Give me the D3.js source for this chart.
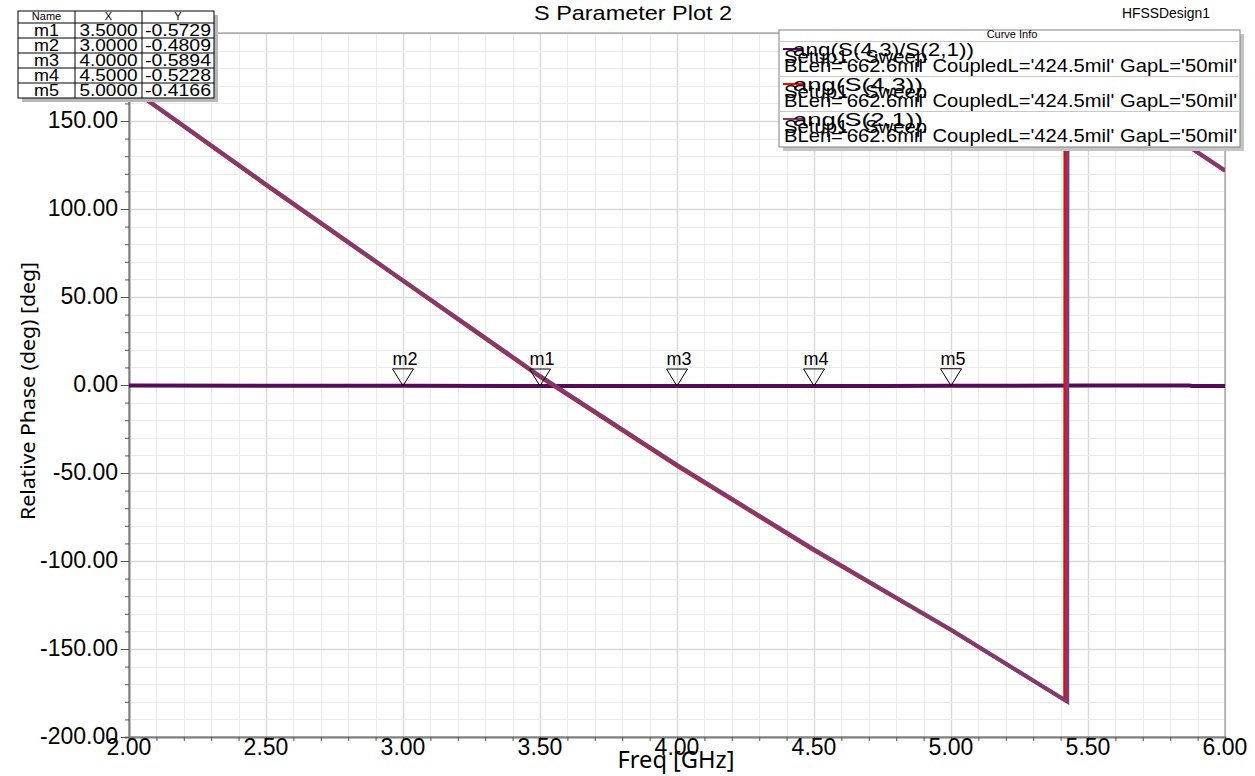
<!DOCTYPE html>
<html>
<head>
<meta charset="utf-8">
<script src="https://cdn.jsdelivr.net/npm/d3@7"></script>
<style>
  body { margin: 0; background: #fff; }
  text { font-family: "Liberation Sans", Arial, sans-serif; fill: #000; }
</style>
</head>
<body>
<div id="chart"></div>
<script>
// ---------------------------
// Data
// ---------------------------
const freqS43 = [2.0, 2.5, 3.0, 3.5, 4.0, 4.5, 5.0, 5.416, 5.417, 5.86, 6.0];
const angS43  = [169, 113.5, 59, 4.5, -46, -94, -139.4, -179.2, 180, 136, 121.6];

const freqS21 = [2.0, 2.5, 3.0, 3.5, 4.0, 4.5, 5.0, 5.424, 5.425, 5.86, 6.0];
const angS21  = [169.4, 114, 59.5, 5.1, -45.4, -93.5, -139, -179.8, 179.6, 136.4, 122];

const freqRatio = [2.0, 2.5, 3.0, 3.5, 4.0, 4.5, 4.75, 5.0, 5.5, 5.87, 5.88, 6.0];
const angRatio  = [-0.3, -0.4, -0.4809, -0.5729, -0.5894, -0.5228, -0.5, -0.4166, -0.35, -0.3, -0.6, -0.6];

const markerNames = ["m1", "m2", "m3", "m4", "m5"];
const markerX = [3.5, 3.0, 4.0, 4.5, 5.0];
const markerY = [-0.5729, -0.4809, -0.5894, -0.5228, -0.4166];

const xTicks = [2.0, 2.5, 3.0, 3.5, 4.0, 4.5, 5.0, 5.5, 6.0];
const yTicks = [-200, -150, -100, -50, 0, 50, 100, 150];

const curveNames = ["ang(S(4,3)/S(2,1))", "ang(S(4,3))", "ang(S(2,1))"];
const curveColors = ["#560b56", "#ff0000", "#7d3c6e"];
const sweepLabel = "Setup1 : Sweep";
const paramLabel = "BLen='662.6mil' CoupledL='424.5mil' GapL='50mil'";

// ---------------------------
// Setup
// ---------------------------
const width = 1255, height = 776;
const plotL = 129, plotR = 1225, plotT = 33, plotB = 737;

const svg = d3.select("#chart").append("svg")
  .attr("width", width)
  .attr("height", height);

svg.append("rect").attr("width", width).attr("height", height).attr("fill", "#fff");

const x = d3.scaleLinear().domain([2, 6]).range([plotL, plotR]);
const y = d3.scaleLinear().domain([-200, 200]).range([plotB, plotT]);

// ---------------------------
// Grid
// ---------------------------
const grid = svg.append("g");
grid.selectAll(".gx")
  .data(d3.range(2, 6.001, 0.1))
  .join("line")
  .attr("x1", d => Math.round(x(d)) + 0.5).attr("x2", d => Math.round(x(d)) + 0.5)
  .attr("y1", plotT).attr("y2", plotB)
  .attr("stroke", (d, i) => i % 5 === 0 ? "#d9d9d9" : "#ebebeb")
  .attr("stroke-width", (d, i) => i % 5 === 0 ? 1.5 : 1);
grid.selectAll(".gy")
  .data(d3.range(-200, 200.001, 10))
  .join("line")
  .attr("y1", d => Math.round(y(d)) + 0.5).attr("y2", d => Math.round(y(d)) + 0.5)
  .attr("x1", plotL).attr("x2", plotR)
  .attr("stroke", (d, i) => i % 5 === 0 ? "#d9d9d9" : "#ebebeb")
  .attr("stroke-width", (d, i) => i % 5 === 0 ? 1.5 : 1);

// frame
svg.append("rect")
  .attr("x", plotL).attr("y", plotT)
  .attr("width", plotR - plotL).attr("height", plotB - plotT)
  .attr("fill", "none").attr("stroke", "#8a8a8a").attr("stroke-width", 1);

// ---------------------------
// Axes
// ---------------------------
const xAxis = d3.axisBottom(x)
  .tickValues(d3.range(2, 6.001, 0.1))
  .tickSize(4)
  .tickFormat("");
svg.append("g").attr("transform", `translate(0,${plotB})`).call(xAxis)
  .call(g => g.select(".domain").attr("stroke", "#808080").attr("stroke-width", 2))
  .call(g => g.selectAll(".tick line").attr("stroke", "#555"));

const yAxis = d3.axisLeft(y)
  .tickValues(d3.range(-200, 200.001, 10))
  .tickSize(4)
  .tickFormat("");
svg.append("g").attr("transform", `translate(${plotL},0)`).call(yAxis)
  .call(g => g.select(".domain").attr("stroke", "#808080").attr("stroke-width", 2))
  .call(g => g.selectAll(".tick line")
    .attr("stroke", "#555")
    .attr("x2", d => Math.round(d) % 50 === 0 ? -8 : -4));

svg.append("g").selectAll("text")
  .data(xTicks)
  .join("text")
  .attr("x", d => x(d))
  .attr("y", plotB + 18)
  .attr("text-anchor", "middle")
  .attr("font-size", 23)
  .text(d => d.toFixed(2));

svg.append("g").selectAll("text")
  .data(yTicks)
  .join("text")
  .attr("x", 118)
  .attr("y", d => y(d) + 7)
  .attr("text-anchor", "end")
  .attr("font-size", 23)
  .text(d => d.toFixed(2));

svg.append("text")
  .attr("transform", "translate(35,391) rotate(-90)")
  .attr("text-anchor", "middle")
  .attr("font-size", 20)
  .style("font-family", "'Noto Sans', 'Open Sans', sans-serif")
  .attr("textLength", 258)
  .attr("lengthAdjust", "spacingAndGlyphs")
  .text("Relative Phase (deg) [deg]");

svg.append("text")
  .attr("x", 676).attr("y", 768)
  .attr("text-anchor", "middle")
  .attr("font-size", 23)
  .style("font-family", "'Noto Sans', 'Open Sans', sans-serif")
  .attr("textLength", 117)
  .attr("lengthAdjust", "spacingAndGlyphs")
  .text("Freq [GHz]");

svg.append("text")
  .attr("x", 633).attr("y", 20)
  .attr("text-anchor", "middle")
  .attr("font-size", 21)
  .attr("textLength", 198)
  .attr("lengthAdjust", "spacingAndGlyphs")
  .text("S Parameter Plot 2");

svg.append("text")
  .attr("x", 1122).attr("y", 18)
  .attr("font-size", 14)
  .attr("textLength", 88)
  .attr("lengthAdjust", "spacingAndGlyphs")
  .text("HFSSDesign1");

// ---------------------------
// Curves
// ---------------------------
svg.append("clipPath").attr("id", "plotclip")
  .append("rect").attr("x", plotL).attr("y", plotT)
  .attr("width", plotR - plotL).attr("height", plotB - plotT);

const line = d3.line().x(d => x(d[0])).y(d => y(d[1]));
const series = [
  { pts: d3.zip(freqRatio, angRatio), color: curveColors[0], w: 4 },
  { pts: d3.zip(freqS43, angS43), color: curveColors[1], w: 3.5 },
  { pts: d3.zip(freqS21, angS21), color: curveColors[2], w: 4 }
];
const curves = svg.append("g").attr("clip-path", "url(#plotclip)");
curves.selectAll("path")
  .data(series)
  .join("path")
  .attr("d", d => line(d.pts))
  .attr("fill", "none")
  .attr("stroke", d => d.color)
  .attr("stroke-width", d => d.w)
  .attr("stroke-linejoin", "miter");

// ---------------------------
// Markers
// ---------------------------
const mk = svg.append("g").selectAll("g")
  .data(markerNames.map((n, i) => ({ name: n, fx: markerX[i], fy: markerY[i] })))
  .join("g")
  .attr("transform", d => `translate(${x(d.fx)},${y(d.fy)})`);
mk.append("path")
  .attr("d", "M-10.5,-17L10.5,-17L0,0Z")
  .attr("fill", "none")
  .attr("stroke", "#000")
  .attr("stroke-width", 1);
mk.append("text")
  .attr("x", 2).attr("y", -21)
  .attr("text-anchor", "middle")
  .attr("font-size", 18)
  .text(d => d.name);

// ---------------------------
// Marker table
// ---------------------------
const tbl = svg.append("g");
const tx = [18, 75, 142, 214];
const ty0 = 11, hdr = 12, rowH = 15;
const tH = hdr + rowH * markerNames.length;
tbl.append("rect").attr("x", tx[0] + 4).attr("y", ty0 + 4)
  .attr("width", tx[3] - tx[0]).attr("height", tH).attr("fill", "#b8b8b8");
tbl.append("rect").attr("x", tx[0]).attr("y", ty0)
  .attr("width", tx[3] - tx[0]).attr("height", tH)
  .attr("fill", "#fff").attr("stroke", "#000").attr("stroke-width", 1);
tx.slice(1, 3).forEach(cx => tbl.append("line")
  .attr("x1", cx).attr("x2", cx).attr("y1", ty0).attr("y2", ty0 + tH)
  .attr("stroke", "#000"));
d3.range(markerNames.length).forEach(i => tbl.append("line")
  .attr("x1", tx[0]).attr("x2", tx[3])
  .attr("y1", ty0 + hdr + i * rowH).attr("y2", ty0 + hdr + i * rowH)
  .attr("stroke", "#000"));
["Name", "X", "Y"].forEach((h, i) => tbl.append("text")
  .attr("x", (tx[i] + tx[i + 1]) / 2).attr("y", ty0 + 9)
  .attr("text-anchor", "middle").attr("font-size", 11).text(h));
markerNames.forEach((n, i) => {
  const by = ty0 + hdr + i * rowH + 13;
  const cells = [n, markerX[i].toFixed(4), markerY[i].toFixed(4)];
  const lens = [25, 58, 66];
  cells.forEach((c, j) => tbl.append("text")
    .attr("x", (tx[j] + tx[j + 1]) / 2).attr("y", by)
    .attr("text-anchor", "middle")
    .attr("font-size", 16.5)
    .attr("textLength", lens[j])
    .attr("lengthAdjust", "spacingAndGlyphs")
    .text(c));
});

// ---------------------------
// Curve Info legend
// ---------------------------
const lg = svg.append("g");
const lx = 779, ly = 30, lw = 461, lh = 117;
lg.append("rect").attr("x", lx + 4).attr("y", ly + 4).attr("width", lw).attr("height", lh).attr("fill", "#c4c4c4");
lg.append("rect").attr("x", lx).attr("y", ly).attr("width", lw).attr("height", lh)
  .attr("fill", "#fff").attr("stroke", "#808080");
lg.append("text").attr("x", 1012).attr("y", 38)
  .attr("text-anchor", "middle").attr("font-size", 11).text("Curve Info");
curveNames.forEach((name, i) => {
  const t = 41 + i * 35;
  lg.append("line").attr("x1", lx).attr("x2", lx + lw).attr("y1", t + 0.5).attr("y2", t + 0.5)
    .attr("stroke", "#c8c8c8");
  lg.append("line").attr("x1", 783).attr("x2", 803).attr("y1", t + 8).attr("y2", t + 8)
    .attr("stroke", curveColors[i]).attr("stroke-width", 2);
  lg.append("text").attr("x", 793).attr("y", t + 15).attr("font-size", 19)
    .attr("textLength", i === 0 ? 181 : 130).attr("lengthAdjust", "spacingAndGlyphs").text(name);
  lg.append("text").attr("x", 784).attr("y", t + 22).attr("font-size", 19)
    .attr("textLength", 143).attr("lengthAdjust", "spacingAndGlyphs").text(sweepLabel);
  lg.append("text").attr("x", 784).attr("y", t + 31).attr("font-size", 19)
    .attr("textLength", 453).attr("lengthAdjust", "spacingAndGlyphs").text(paramLabel);
});
</script>
</body>
</html>
